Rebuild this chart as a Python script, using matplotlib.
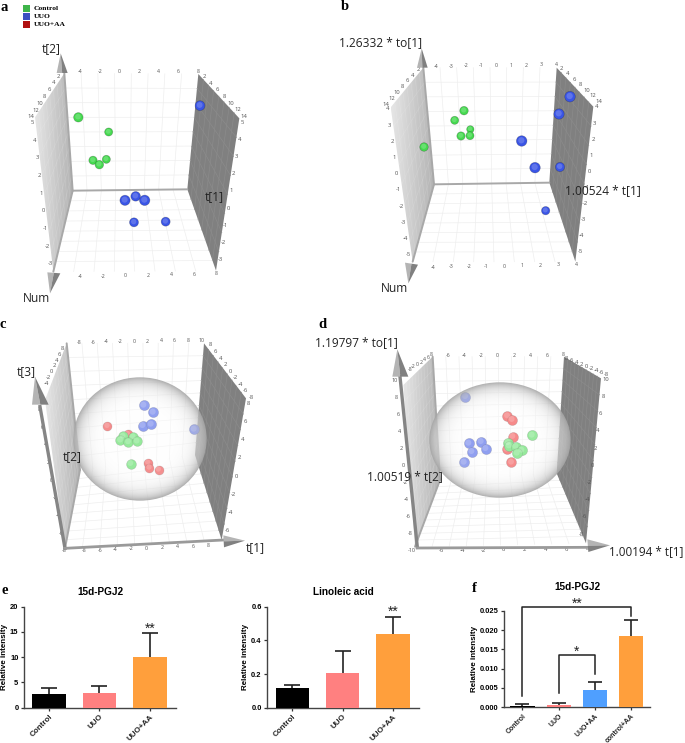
#!/usr/bin/env python
# -*- coding: utf-8 -*-
"""OPLS score plots (a-d) and relative intensity bar charts (e, f)."""

import numpy as np
import matplotlib
matplotlib.use("Agg")
import matplotlib.pyplot as plt
from matplotlib.patches import Polygon, Ellipse

WIDTH, HEIGHT = 685, 743

# Score plots: positions
a_control_x = [235, 326, 279, 298, 319]
a_control_y = [352, 396, 481, 494, 478]
a_control_s = [46, 34, 36, 38, 34]
a_uuo_x = [600, 375, 407, 434, 402, 497]
a_uuo_y = [317, 601, 589, 601, 667, 665]
a_uuo_s = [50, 54, 48, 56, 42, 42]

b_control_x = [372, 344, 391, 390, 363, 252]
b_control_y = [332, 361, 388, 407, 408, 441]
b_control_s = [38, 34, 28, 34, 36, 38]
b_uuo_x = [690, 657, 545, 585, 660, 617]
b_uuo_y = [290, 342, 423, 503, 501, 632]
b_uuo_s = [58, 56, 58, 58, 44, 36]

c_control_x = [369, 399, 361, 385, 411, 392]
c_control_y = [379, 381, 391, 396, 394, 461]
c_uuo_x = [431, 459, 428, 453, 582]
c_uuo_y = [286, 307, 347, 343, 358]
c_uuoaa_x = [322, 383, 444, 448, 476]
c_uuoaa_y = [348, 372, 458, 473, 479]

d_control_x = [576, 504, 507, 527, 545, 531]
d_control_y = [376, 398, 408, 410, 421, 430]
d_uuo_x = [376, 386, 423, 437, 395, 372]
d_uuo_y = [260, 400, 395, 416, 425, 457]
d_uuoaa_x = [502, 516, 518, 500, 514]
d_uuoaa_y = [318, 329, 380, 418, 457]

# Bar charts
groups_e = ["Control", "UUO", "UUO+AA"]
pgj2_values = [2.7, 2.9, 10.0]
pgj2_tops = [4.0, 4.2, 14.7]
linoleic_values = [0.12, 0.205, 0.44]
linoleic_tops = [0.135, 0.335, 0.54]
groups_f = ["Control", "UUO", "UUO+AA", "control+AA"]
pgj2_f_values = [0.0003, 0.0006, 0.0045, 0.0184]
pgj2_f_tops = [0.0008, 0.0010, 0.0066, 0.0227]

legend_labels = ["Control", "UUO", "UUO+AA"]
legend_colors = ["#3fb54a", "#3b50c0", "#b01010"]

GREEN = "#45d94f"
BLUE = "#3a55e6"
RED = "#f03030"
SANS = "Open Sans"


def tick_row(ax, labels, start, end, size=3.8, color="#555555"):
    """Write small tick labels evenly along one edge of a wall."""
    xs = np.linspace(start[0], end[0], len(labels))
    ys = np.linspace(start[1], end[1], len(labels))
    for label, x, y in zip(labels, xs, ys):
        ax.text(x, y, str(label), fontsize=size, color=color, ha="center",
                va="center", family=SANS)


def gradient_fill(ax, pts, left, right, zorder=1):
    """Fill a polygon with a horizontal grey gradient."""
    pts = np.array(pts, dtype=float)
    box = [pts[:, 0].min(), pts[:, 0].max(), pts[:, 1].max(), pts[:, 1].min()]
    img = ax.imshow(np.linspace(left, right, 64).reshape(1, -1), cmap="gray",
                    vmin=0, vmax=1, extent=box, aspect="auto", zorder=zorder)
    poly = Polygon(pts, closed=True, transform=ax.transData, fc="none", ec="none")
    ax.add_patch(poly)
    img.set_clip_path(poly)


def grid_between(ax, p0, p1, q0, q1, n, color, lw=0.5, zorder=2):
    """Grid lines joining two opposite edges of a face."""
    for t in np.linspace(0, 1, n + 2)[1:-1]:
        a = np.array(p0) + (np.array(p1) - np.array(p0)) * t
        b = np.array(q0) + (np.array(q1) - np.array(q0)) * t
        ax.plot([a[0], b[0]], [a[1], b[1]], color=color, lw=lw, zorder=zorder)


def draw_box(ax, tl, tr, bl, br, otl, otr, obl, obr, n=7, left_shade=(0.9, 0.7), back_edge=True):
    """Back wall, floor and the two side walls of the 3D plot."""
    gradient_fill(ax, [tl, otl, obl, bl], left_shade[0], left_shade[1])
    ax.add_patch(Polygon([tr, otr, obr, br], closed=True, fc="#808080", ec="none", zorder=1))
    # back wall and floor
    grid_between(ax, tl, tr, bl, br, n, "#eeeeee")
    grid_between(ax, tl, bl, tr, br, n, "#eeeeee")
    grid_between(ax, bl, br, obl, obr, n, "#eeeeee")
    grid_between(ax, bl, obl, br, obr, n, "#eeeeee")
    # side walls
    grid_between(ax, tr, otr, br, obr, n, "#8b8b8b")
    grid_between(ax, tr, br, otr, obr, n, "#8b8b8b")
    grid_between(ax, tl, otl, bl, obl, n, "#ffffff22")
    grid_between(ax, tl, bl, otl, obl, n, "#ffffff22")
    # thick edges
    edges = [(tl, bl), (bl, obl)]
    if back_edge:
        edges.append((bl, br))
    for p, q in edges:
        ax.plot([p[0], q[0]], [p[1], q[1]], color="#a8a8a8", lw=1.4, zorder=3,
                solid_capstyle="round")


def cone(ax, base0, base1, tip, zorder=6):
    """Shaded arrow head of an axis."""
    base0, base1, tip = map(np.array, (base0, base1, tip))
    mid = (base0 + base1) / 2
    ax.add_patch(Polygon([base0, mid, tip], closed=True, fc="#b4b4b4", ec="none", zorder=zorder))
    ax.add_patch(Polygon([mid, base1, tip], closed=True, fc="#808080", ec="none", zorder=zorder))


def balls(ax, xs, ys, color, sizes=42, zorder=5):
    """Score points drawn as shaded balls."""
    sizes = np.asarray(sizes, dtype=float)
    ax.scatter(xs, ys, s=sizes, c=color, edgecolors="#00000040", linewidths=0.5, zorder=zorder)
    ax.scatter(np.array(xs) - 1, np.array(ys) - 2, s=sizes * 0.35, c="#ffffff30",
               edgecolors="none", zorder=zorder)


def glass_sphere(ax, cx, cy, rx, ry, zorder=7):
    """Hotelling ellipse drawn as a see-through ball over the points."""
    yy, xx = np.mgrid[-1:1:300j, -1:1:300j]
    r = np.clip(np.sqrt(xx ** 2 + yy ** 2), 0, 1)
    rgba = np.zeros(r.shape + (4,))
    grey = 1 - 0.36 * r ** 6
    rgba[..., 0] = rgba[..., 1] = rgba[..., 2] = grey
    rgba[..., 3] = 0.44 + 0.46 * r ** 5
    img = ax.imshow(rgba, extent=[cx - rx, cx + rx, cy + ry, cy - ry], aspect="auto", zorder=zorder)
    clip = Ellipse((cx, cy), 2 * rx, 2 * ry, transform=ax.transData, fc="none", ec="none")
    ax.add_patch(clip)
    img.set_clip_path(clip)


def panel_axes(fig, x, y, w, h):
    """Axes over one crop of the figure, three units per pixel."""
    ax = fig.add_axes([x / WIDTH, 1 - (y + h) / HEIGHT, w / WIDTH, h / HEIGHT])
    ax.set_xlim(0, w * 3)
    ax.set_ylim(h * 3, 0)
    ax.axis("off")
    ax.patch.set_alpha(0)
    return ax


def label(ax, x, y, text, ha="center", size=8.6):
    ax.text(x, y, text, fontsize=size, family=SANS, color="#222222", ha=ha, va="center", zorder=9)


def letter(ax, x, y, text):
    ax.text(x, y, text, fontsize=10.5, family="Liberation Serif", weight="bold",
            ha="center", va="center", zorder=9)


def draw_panel_a(ax):
    draw_box(ax, (193, 220), (595, 222), (218, 572), (562, 568),
             (105, 352), (718, 355), (160, 815), (648, 812))
    tick_row(ax, [-4, -2, 0, 2, 4, 6, 8], (240, 215), (594, 215))
    tick_row(ax, [-4, -2, 0, 2, 4, 6, 8], (240, 830), (650, 821))
    tick_row(ax, [5, 4, 3, 2, 1, 0, -1, -2, -3], (98, 368), (150, 791), 4.2)
    tick_row(ax, [5, 4, 3, 2, 1, 0, -1, -2, -3], (726, 366), (661, 779), 4.2)
    tick_row(ax, [2, 4, 6, 8, 10, 12, 14], (176, 228), (92, 351), 4.2)
    tick_row(ax, [2, 4, 6, 8, 10, 12, 14], (612, 230), (733, 349), 4.2)
    cone(ax, (170, 219), (203, 219), (182, 160))
    cone(ax, (142, 817), (181, 820), (150, 880))
    balls(ax, a_control_x, a_control_y, GREEN, a_control_s)
    balls(ax, a_uuo_x, a_uuo_y, BLUE, a_uuo_s)
    label(ax, 153, 145, "t[2]")
    label(ax, 644, 590, "t[1]")
    label(ax, 110, 896, "Num")
    letter(ax, 12, 22, "a")


def draw_panel_b(ax):
    draw_box(ax, (250, 203), (650, 203), (282, 553), (628, 548),
             (152, 322), (760, 320), (218, 785), (706, 785))
    tick_row(ax, [-4, -3, -2, -1, 0, 1, 2, 3, 4], (289, 199), (650, 194))
    tick_row(ax, [-4, -3, -2, -1, 0, 1, 2, 3, 4], (279, 802), (708, 794))
    tick_row(ax, [4, 3, 2, 1, 0, -1, -2, -3, -4, -5], (142, 327), (204, 764), 4.2)
    tick_row(ax, [4, 3, 2, 1, 0, -1, -2, -3, -4, -5], (770, 321), (720, 755), 4.2)
    tick_row(ax, [2, 4, 6, 8, 10, 12, 14], (235, 208), (139, 312), 4.2)
    tick_row(ax, [2, 4, 6, 8, 10, 12, 14], (664, 205), (778, 304), 4.2)
    cone(ax, (231, 203), (263, 203), (245, 145))
    cone(ax, (195, 788), (234, 794), (205, 850))
    balls(ax, b_control_x, b_control_y, GREEN, b_control_s)
    balls(ax, b_uuo_x, b_uuo_y, BLUE, b_uuo_s)
    label(ax, 245, 128, "1.26332 * to[1]", ha="right")
    label(ax, 902, 571, "1.00524 * t[1]", ha="right")
    label(ax, 162, 866, "Num")
    letter(ax, 15, 18, "b")


def draw_panel_c(ax):
    draw_box(ax, (200, 100), (612, 100), (240, 480), (585, 435),
             (135, 270), (738, 265), (195, 715), (665, 690), n=8, back_edge=False)
    tick_row(ax, [-8, -6, -4, -2, 0, 2, 4, 6, 8, 10], (238, 97), (606, 91))
    tick_row(ax, [-8, -6, -4, -2, 0, 2, 4, 6, 8], (253, 722), (625, 706))
    tick_row(ax, [8, 6, 4, 2, 0, -2, -4], (186, 115), (138, 220), 4.2)
    tick_row(ax, [8, 6, 4, 2, 0, -2, -4, -6, -8], (630, 105), (753, 262), 4.2)
    tick_row(ax, [8, 6, 4, 2, 0, -2, -4, -6], (745, 280), (682, 662), 4.2)
    tick_row(ax, [8, 6, 4, 2, 0, -2, -4, -6, -8], (118, 298), (192, 723), 4.0)
    ax.plot([120, 195], [290, 715], color="#858585", lw=2.4, zorder=4)
    ax.plot([195, 670], [715, 690], color="#9a9a9a", lw=2.0, zorder=4)
    cone(ax, (96, 284), (146, 284), (105, 200))
    cone(ax, (670, 676), (672, 712), (735, 692))
    balls(ax, c_uuoaa_x, c_uuoaa_y, RED)
    balls(ax, c_uuo_x, c_uuo_y, BLUE, 54)
    balls(ax, c_control_x, c_control_y, GREEN, 50)
    glass_sphere(ax, 420, 387, 200, 185)
    label(ax, 78, 185, "t[3]")
    label(ax, 218, 440, "t[2]")
    label(ax, 767, 714, "t[1]")
    letter(ax, 8, 45, "c")


def draw_panel_d(ax):
    draw_box(ax, (278, 140), (672, 140), (300, 510), (650, 490),
             (190, 225), (783, 205), (225, 710), (738, 700), n=9, back_edge=False)
    tick_row(ax, [-6, -4, -2, 0, 2, 4, 6, 8], (323, 137), (670, 135))
    tick_row(ax, [-6, -4, -2, 0, 2, 4, 6, 8], (304, 722), (741, 717), 4.2)
    tick_row(ax, [-8, -2, 0, 2, 4, 6, 8], (210, 178), (275, 135))
    tick_row(ax, [8, 6, 4, 2, 0, -2, -4, -6, -8], (680, 147), (800, 195), 4.2)
    tick_row(ax, [10, 8, 6, 4, 2, 0, -2, -4, -6, -8], (797, 208), (725, 672), 4.2)
    tick_row(ax, [10, 8, 6, 4, 2, 0, -2, -4, -6, -8, -10], (165, 212), (215, 723), 4.0)
    ax.plot([180, 232], [200, 712], color="#858585", lw=2.4, zorder=4)
    ax.plot([232, 745], [714, 712], color="#9a9a9a", lw=2.0, zorder=4)
    cone(ax, (157, 200), (205, 200), (172, 118))
    cone(ax, (742, 688), (745, 726), (810, 706))
    balls(ax, d_uuoaa_x, d_uuoaa_y, RED, 52)
    balls(ax, d_uuo_x, d_uuo_y, BLUE, 54)
    balls(ax, d_control_x, d_control_y, GREEN, 54)
    glass_sphere(ax, 480, 390, 212, 173)
    label(ax, 174, 97, "1.19797 * to[1]", ha="right")
    label(ax, 310, 501, "1.00519 * t[2]", ha="right")
    label(ax, 1030, 726, "1.00194 * t[1]", ha="right", size=8.4)
    letter(ax, -52, 43, "d")


def bar_panel(fig, box, groups, values, tops, colors, ylim, yticks, ticklabels, title,
              title_y, cap=6.0, xsize=5.8):
    """Bar chart with upper error bars; box is left, right, top, bottom in pixels."""
    left, right, top, bottom = box
    ax = fig.add_axes([left / WIDTH, 1 - bottom / HEIGHT, (right - left) / WIDTH,
                       (bottom - top) / HEIGHT])
    x = np.arange(len(groups))
    err = ax.errorbar(x, values, yerr=[np.zeros(len(values)), np.array(tops) - np.array(values)],
                      fmt="none", ecolor="#222222", elinewidth=1.2, capsize=cap, capthick=1.2,
                      zorder=2)
    err[1][0].set_visible(False)  # only the upper cap
    ax.bar(x, values, width=0.67, color=colors, zorder=3)
    ax.set_xlim(-0.5, len(groups) - 0.48)
    ax.set_ylim(*ylim)
    ax.set_yticks(yticks)
    ax.set_yticklabels(ticklabels, fontsize=5.4, fontweight="bold", family="Liberation Sans")
    ax.set_xticks(x)
    ax.set_xticklabels(groups, rotation=45, ha="right", rotation_mode="anchor", fontsize=xsize,
                       fontweight="bold", family="Liberation Sans", color="#222222")
    ax.set_ylabel("Relative intensity", fontsize=5.8, fontweight="bold", family="Liberation Sans",
                  labelpad=1.5)
    ax.tick_params(length=2.5, width=0.9, color="#333333", pad=1.5)
    for side in ["top", "right"]:
        ax.spines[side].set_visible(False)
    for side in ["left", "bottom"]:
        ax.spines[side].set_linewidth(1.0)
        ax.spines[side].set_color("#444444")
    ax.patch.set_alpha(0)
    fig.text((left + right) / 2 / WIDTH, 1 - title_y / HEIGHT, title, fontsize=7.2,
             fontweight="bold", family="Liberation Sans", ha="center", va="center")
    return ax


def stars(ax, x, y, text, size=10):
    ax.text(x, y, text, fontsize=size, ha="center", va="center", family="Liberation Sans",
            color="#222222", clip_on=False)


def main():
    fig = plt.figure(figsize=(WIDTH / 100, HEIGHT / 100), dpi=100, facecolor="white")

    ax_a = panel_axes(fig, 0, 0, 340, 310)
    draw_panel_a(ax_a)
    draw_panel_b(panel_axes(fig, 340, 0, 345, 310))
    draw_panel_c(panel_axes(fig, 0, 310, 340, 260))
    draw_panel_d(panel_axes(fig, 340, 310, 345, 260))

    # legend of the score plots
    for i, (name, color) in enumerate(zip(legend_labels, legend_colors)):
        y = 25 + i * 24.5
        ax_a.add_patch(Polygon([(70, y - 10), (90, y - 10), (90, y + 10), (70, y + 10)],
                               closed=True, fc=color, ec="none"))
        ax_a.text(101, y, name, fontsize=5.4, family="Liberation Serif", weight="bold",
                  ha="left", va="center")

    colors_e = ["#000000", "#ff8080", "#ff9f3c"]
    ax_e = bar_panel(fig, (24, 176, 606.7, 707.7), groups_e, pgj2_values, pgj2_tops, colors_e,
                     (0, 20), [0, 5, 10, 15, 20], ["0", "5", "10", "15", "20"], "15d-PGJ2", 592)
    stars(ax_e, 2, 15.6, "**")
    ax_l = bar_panel(fig, (267.3, 419, 606.7, 707.7), groups_e, linoleic_values, linoleic_tops,
                     colors_e, (0, 0.6), [0, 0.2, 0.4, 0.6], ["0.0", "0.2", "0.4", "0.6"],
                     "Linoleic acid", 592)
    stars(ax_l, 2, 0.57, "**")
    colors_f = ["#000000", "#ff8080", "#4f9fff", "#ff9f3c"]
    ax_f = bar_panel(fig, (504.3, 650, 610.7, 707.3), groups_f, pgj2_f_values, pgj2_f_tops,
                     colors_f, (0, 0.025), [0, 0.005, 0.01, 0.015, 0.02, 0.025],
                     ["0.000", "0.005", "0.010", "0.015", "0.020", "0.025"], "15d-PGJ2", 587,
                     cap=5.2, xsize=5.0)
    ax_f.plot([0, 0, 3, 3], [0.0030, 0.0260, 0.0260, 0.0237], color="#222222", lw=1.1, clip_on=False)
    ax_f.plot([1, 1, 2, 2], [0.0036, 0.0135, 0.0135, 0.0086], color="#222222", lw=1.1, clip_on=False)
    stars(ax_f, 1.5, 0.0268, "**")
    stars(ax_f, 1.5, 0.0143, "*")
    fig.text(5 / WIDTH, 1 - 590 / HEIGHT, "e", fontsize=10.5, family="Liberation Serif",
             weight="bold", ha="center", va="center")
    fig.text(474 / WIDTH, 1 - 589 / HEIGHT, "f", fontsize=10.5, family="Liberation Serif",
             weight="bold", ha="center", va="center")

    fig.savefig("out.png", dpi=100)
    plt.close(fig)


if __name__ == "__main__":
    main()
